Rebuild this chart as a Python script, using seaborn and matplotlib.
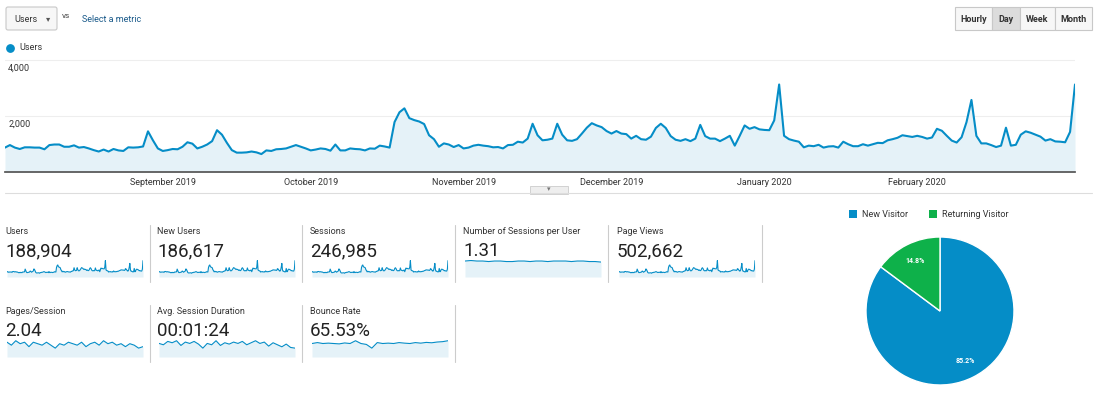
import matplotlib

matplotlib.use("Agg")
import matplotlib.pyplot as plt
from matplotlib.patches import FancyBboxPatch, Rectangle
import numpy as np
import pandas as pd
import seaborn as sns

# daily users
users = [
    870, 960, 870, 820, 880, 880, 870, 870, 810, 960, 980, 980, 900, 900, 950, 870,
    890, 840, 780, 730, 800, 730, 820, 770, 750, 880, 870, 880, 910, 1450, 1130, 840,
    750, 780, 820, 810, 900, 1060, 1010, 840, 900, 980, 1100, 1490, 1330, 1040, 780, 690,
    690, 700, 730, 700, 640, 770, 750, 810, 820, 840, 900, 960, 900, 840, 770, 800,
    840, 820, 760, 980, 770, 770, 840, 820, 810, 770, 840, 830, 940, 910, 870, 1780,
    2130, 2270, 1920, 1850, 1800, 1710, 1310, 1170, 900, 1020, 980, 890, 960, 840, 870, 940,
    970, 940, 920, 880, 890, 840, 960, 970, 1080, 1050, 1190, 1720, 1310, 1130, 1150,
    1190, 1720, 1330, 1130, 1110, 1170, 1370, 1580, 1740, 1660, 1600, 1460, 1370, 1460, 1370, 1350,
    1190, 1290, 1170, 1150, 1260, 1570, 1720, 1570, 1280, 1150, 1110, 1170, 1100, 1190, 1680, 1280,
    1190, 1190, 1100, 1190, 1290, 940, 1290, 1660, 1540, 1600, 1520, 1500, 1490, 1840, 3120, 1290,
    1170, 1120, 1080, 880, 940, 920, 970, 870, 910, 920, 870, 1080, 990, 920, 920, 990,
    940, 990, 1040, 1030, 1130, 1170, 1220, 1310, 1280, 1250, 1290, 1250, 1190, 1230, 1540, 1470,
    1290, 1120, 1050, 1240, 1780, 2570, 1290, 1020, 1020, 960, 890, 940, 1580, 940, 970, 1330,
    1450, 1400, 1330, 1260, 1120, 1170, 1090, 1080, 1060, 1430, 3120,
]
month_ticks = ["2019-09-01", "2019-10-01", "2019-11-01", "2019-12-01", "2020-01-01", "2020-02-01"]
month_labels = ["September 2019", "October 2019", "November 2019", "December 2019",
                "January 2020", "February 2020"]

card_titles = ["Users", "New Users", "Sessions", "Number of Sessions per User", "Page Views",
               "Pages/Session", "Avg. Session Duration", "Bounce Rate"]
card_values = ["188,904", "186,617", "246,985", "1.31", "502,662", "2.04", "00:01:24", "65.53%"]

# rough sparkline readings for the ratio metrics
spark_sessions_per_user = [1.31, 1.32, 1.31, 1.31, 1.30, 1.31, 1.31, 1.30, 1.30, 1.31, 1.31, 1.30,
                           1.31, 1.31, 1.30, 1.31, 1.31, 1.31, 1.30, 1.31, 1.31, 1.30, 1.30, 1.29]
spark_pages = [2.1, 2.0, 2.15, 2.05, 2.1, 1.95, 2.1, 2.05, 2.0, 2.1, 2.0, 1.9, 2.05, 2.0, 2.1, 2.05,
               2.0, 2.1, 1.95, 2.05, 2.1, 2.0, 2.15, 2.05, 2.1, 2.0, 2.05, 1.95, 2.05, 2.0, 1.9, 1.95]
spark_duration = [84, 80, 90, 86, 92, 78, 88, 84, 90, 82, 70, 84, 80, 92, 78, 86, 82, 88, 84, 90,
                  80, 86, 92, 84, 88, 76, 86, 80, 74, 82, 72, 70]
spark_bounce = [65, 65.5, 65, 65.2, 65, 64.8, 65.3, 65, 66.5, 65, 64.5, 62.5, 65.5, 65, 65.2, 65,
                65.5, 65.2, 65, 65.5, 65.2, 65.6, 65.4, 65.8, 66, 66.5]
pie_labels = ["New Visitor", "Returning Visitor"]
pie_values = [85.2, 14.8]

BLUE = "#058dc7"
GREEN = "#0eb14a"
FILL = "#e5f2f8"
W, H = 1109, 405

sns.set_theme(style="white")
plt.rcParams["font.family"] = ["Roboto", "DejaVu Sans"]

fig = plt.figure(figsize=(W / 100, H / 100), dpi=100, facecolor="white")
canvas = fig.add_axes([0, 0, 1, 1])
canvas.set_xlim(0, W)
canvas.set_ylim(H, 0)
canvas.axis("off")


def px_axes(x, y, w, h):
    return fig.add_axes([x / W, 1 - (y + h) / H, w / W, h / H])


# --- header controls ---
canvas.add_patch(FancyBboxPatch((6, 7), 51, 23, boxstyle="round,pad=0,rounding_size=2",
                                fc="#f7f7f7", ec="#c8c8c8", lw=0.8))
canvas.text(14, 19, "Users", fontsize=6.5, va="center", color="#333333")
canvas.text(46, 19, "\u25be", fontsize=6, va="center", color="#555555")
canvas.text(62, 16, "vs", fontsize=6, va="center", color="#444444")
canvas.text(82, 19, "Select a metric", fontsize=6.5, va="center", color="#1a5a8a")
bx = [955, 992, 1020, 1055, 1092]
for i, lab in enumerate(["Hourly", "Day", "Week", "Month"]):
    fc = "#dcdcdc" if lab == "Day" else "#f7f7f7"
    canvas.add_patch(Rectangle((bx[i], 7), bx[i + 1] - bx[i], 23, fc=fc, ec="#c8c8c8", lw=0.8))
    canvas.text((bx[i] + bx[i + 1]) / 2, 19, lab, fontsize=6.5, ha="center", va="center",
                color="#333333", fontweight="bold")
canvas.scatter([10], [48], s=28, color=BLUE)
canvas.text(19, 48, "Users", fontsize=6.5, va="center", color="#333333")

# --- main users chart ---
dates = pd.date_range(end="2020-03-04", periods=len(users), freq="D")
df = pd.DataFrame({"date": dates, "users": users})
ax = px_axes(5, 57, 1070, 115)
ax.fill_between(df["date"], df["users"], 0, color=FILL, lw=0)
sns.lineplot(data=df, x="date", y="users", ax=ax, color=BLUE, lw=1.5)
ax.set_xlim(dates[0], dates[-1])
ax.set_ylim(0, 4100)
for v in (2000, 4000):
    ax.axhline(v, color="#eeeeee", lw=0.8, zorder=0)
    ax.text(0.003, v - 130, f"{v:,}", transform=ax.get_yaxis_transform(), fontsize=6.5,
            va="top", color="#333333")
ax.set_xticks(pd.to_datetime(month_ticks))
ax.set_xticklabels(month_labels, fontsize=6.5, color="#333333")
ax.tick_params(axis="x", length=0, pad=4)
ax.set_yticks([])
ax.set_xlabel("")
ax.set_ylabel("")
for s in ("top", "left", "right"):
    ax.spines[s].set_visible(False)
ax.spines["bottom"].set_color("#555555")
canvas.plot([5, 1092], [193, 193], color="#dddddd", lw=0.8)
canvas.add_patch(Rectangle((530, 186), 38, 8, fc="#eeeeee", ec="#cccccc", lw=0.6))
canvas.text(549, 190, "\u25be", fontsize=5, ha="center", va="center", color="#777777")

# --- scorecards ---
col_x = [5, 157, 310, 463, 617]
sparks = [users, users, users, spark_sessions_per_user, users,
          spark_pages, spark_duration, spark_bounce]
for i, (title, val, data) in enumerate(zip(card_titles, card_values, sparks)):
    row, col = divmod(i, 5)
    x0 = col_x[col]
    y0 = 225 + row * 80
    canvas.text(x0, y0 + 7, title, fontsize=6.5, va="center", color="#333333")
    canvas.text(x0, y0 + 26, val, fontsize=13.5, va="center", color="#222222")
    canvas.plot([x0 + 145, x0 + 145], [y0, y0 + 57], color="#cccccc", lw=0.8)
    sax = px_axes(x0 + 2, y0 + 35, 136, 17)
    idx = np.arange(len(data))
    lo, hi = min(data), max(data)
    span = hi - lo
    if i == 3:
        bottom, top = 1.0, 1.33
    elif i >= 5:
        bottom, top = lo - span * 1.2, hi + span * 0.1
    else:
        bottom, top = lo - span * 0.3, hi + span * 0.05
    sax.fill_between(idx, data, bottom, color=FILL, lw=0)
    sns.lineplot(x=idx, y=data, ax=sax, color=BLUE, lw=0.8)
    sax.set_ylim(bottom, top)
    sax.set_xlim(0, len(data) - 1)
    sax.axis("off")

# --- visitor pie ---
for j, (lab, c) in enumerate(zip(pie_labels, [BLUE, GREEN])):
    lx = 849 + j * 80
    canvas.add_patch(Rectangle((lx, 210), 8, 8, fc=c, ec="none"))
    canvas.text(lx + 13, 214.5, lab, fontsize=6.5, va="center", color="#333333")
pax = px_axes(866, 237, 148, 148)
wedges, _, autotexts = pax.pie(pie_values, colors=[BLUE, GREEN], startangle=90, counterclock=False,
                               autopct="%.1f%%", pctdistance=0.75,
                               wedgeprops={"edgecolor": "white", "linewidth": 1})
for t in autotexts:
    t.set_color("white")
    t.set_fontsize(5)
    t.set_fontweight("bold")
pax.set_xlim(-1, 1)
pax.set_ylim(-1, 1)
pax.set_aspect("equal")

fig.savefig("out.png", dpi=100, facecolor="white")
